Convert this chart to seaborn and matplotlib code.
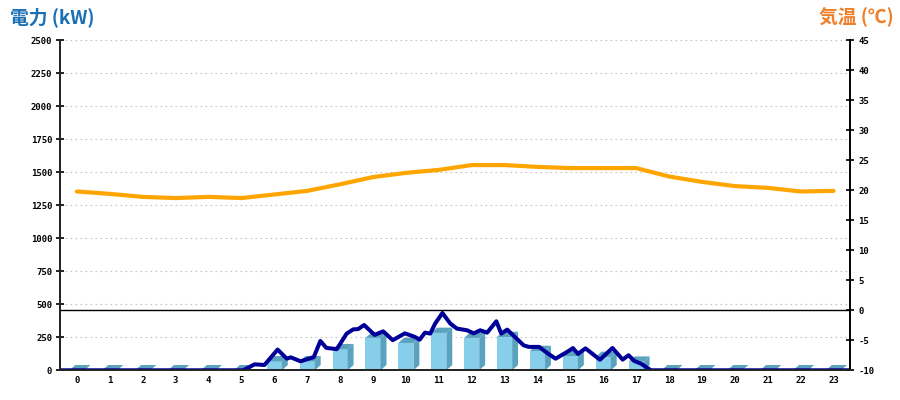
import matplotlib
matplotlib.use("Agg")
import matplotlib.pyplot as plt
from matplotlib.patches import Polygon
import pandas as pd
import seaborn as sns

# Dados do gráfico
HORAS = list(range(24))
POTENCIA_HORARIA = [0, 0, 0, 0, 0, 0, 68, 68, 159, 245, 207, 283,
                    245, 252, 146, 108, 101, 65, 0, 0, 0, 0, 0, 0]
TEMPERATURA = [19.8, 19.4, 18.9, 18.7, 18.9, 18.7, 19.3, 19.9, 21.0, 22.2, 22.9, 23.4,
               24.2, 24.2, 23.9, 23.7, 23.7, 23.7, 22.3, 21.4, 20.7, 20.4, 19.8, 19.9]

# Curva de demanda (hora do dia, kW)
TEMPO_CURVA = [0.0, 5.55, 5.9, 6.2, 6.6, 6.88, 7.0, 7.3, 7.7, 7.9, 8.08, 8.4,
               8.7, 8.9, 9.05, 9.23, 9.55, 9.81, 10.1, 10.47, 10.78, 10.92, 11.08, 11.24,
               11.39, 11.61, 11.85, 12.05, 12.36, 12.56, 12.76, 12.97, 13.25, 13.4, 13.58, 14.08,
               14.24, 14.55, 14.8, 15.05, 15.38, 15.58, 15.73, 15.96, 16.4, 16.78, 17.09, 17.27,
               17.44, 17.65, 17.95, 24.0]
POTENCIA_CURVA = [0, 0, 45, 40, 157, 88, 98, 68, 100, 222, 170, 160,
                  278, 310, 312, 343, 268, 295, 228, 280, 252, 232, 285, 278,
                  354, 434, 354, 316, 303, 280, 303, 285, 371, 278, 308, 189,
                  177, 177, 130, 88, 136, 168, 124, 166, 80, 169, 81, 114,
                  71, 50, 0, 0]

TICKS_KW = list(range(0, 2501, 250))
TICKS_TEMP = list(range(-10, 46, 5))

# Configurações visuais
COR_FRENTE = "#87ceeb"
COR_LADO = "#5ba2bf"
COR_CURVA = "#000099"
COR_TEMP = "#ffa500"
COR_TITULO_KW = "#1a6fb5"
COR_TITULO_TEMP = "#f07f2a"
LARGURA = 0.46
PROF_X = 0.18
PROF_Y = 40
FONTE_TICKS = {"family": "DejaVu Sans Mono", "size": 6.5, "weight": "bold"}


def plotar():
    sns.set_theme(style="white")
    plt.rcParams["font.family"] = ["Noto Sans CJK JP", "DejaVu Sans"]
    plt.rcParams["axes.unicode_minus"] = False

    fig = plt.figure(figsize=(9, 4), dpi=100)
    ax = fig.add_axes([0.0672, 0.0743, 0.8772, 0.825])

    df_barras = pd.DataFrame({"hora": HORAS, "kW": POTENCIA_HORARIA})
    sns.barplot(data=df_barras, x="hora", y="kW", color=COR_FRENTE, saturation=1,
                width=LARGURA, linewidth=0, ax=ax, zorder=2)

    # efeito 3D: lateral e topo de cada barra
    for i, v in enumerate(POTENCIA_HORARIA):
        esq, dir_ = i - LARGURA / 2, i + LARGURA / 2
        lado = [(dir_, 0), (dir_ + PROF_X, PROF_Y), (dir_ + PROF_X, v + PROF_Y), (dir_, v)]
        topo = [(esq, v), (esq + PROF_X, v + PROF_Y), (dir_ + PROF_X, v + PROF_Y), (dir_, v)]
        ax.add_patch(Polygon(lado, closed=True, facecolor=COR_LADO, edgecolor="none", zorder=2))
        ax.add_patch(Polygon(topo, closed=True, facecolor=COR_LADO, edgecolor="none", zorder=2))

    df_curva = pd.DataFrame({"x": [t - 0.5 for t in TEMPO_CURVA], "kW": POTENCIA_CURVA})
    sns.lineplot(data=df_curva, x="x", y="kW", color=COR_CURVA, linewidth=2.9,
                 ax=ax, zorder=4, sort=False, estimator=None)

    ax.set_xlim(-0.5, 23.5)
    ax.set_ylim(0, 2500)
    ax.set_xticks(HORAS)
    ax.set_xticklabels([str(h) for h in HORAS], fontdict=FONTE_TICKS)
    ax.set_yticks(TICKS_KW)
    ax.set_yticklabels([str(t) for t in TICKS_KW], fontdict=FONTE_TICKS)
    ax.tick_params(axis="x", length=0, pad=4, colors="black")
    ax.tick_params(axis="y", direction="inout", length=6, width=1.2, pad=3, colors="black")
    ax.set_xlabel("")
    ax.set_ylabel("")
    ax.yaxis.grid(True, color="#c4c4c4", linestyle=(0, (1.5, 3)), linewidth=0.8)
    ax.set_axisbelow(True)
    for lado in ["left", "right", "bottom"]:
        ax.spines[lado].set_color("black")
        ax.spines[lado].set_linewidth(1.2)
    ax.spines["top"].set_visible(False)

    ax2 = ax.twinx()
    sns.lineplot(x=HORAS, y=TEMPERATURA, color=COR_TEMP, linewidth=3.0, ax=ax2)
    ax2.axhline(0, color="black", linewidth=1.0)
    ax2.set_ylim(-10, 45)
    ax2.set_yticks(TICKS_TEMP)
    ax2.set_yticklabels([str(t) for t in TICKS_TEMP], fontdict=FONTE_TICKS)
    ax2.tick_params(axis="y", direction="inout", length=6, width=1.2, pad=3, colors="black")
    ax2.grid(False)
    ax2.spines["top"].set_visible(False)
    ax2.spines["right"].set_color("black")
    ax2.spines["right"].set_linewidth(1.2)
    ax2.set_xlim(-0.5, 23.5)

    fig.text(0.011, 0.958, "電力 (kW)", color=COR_TITULO_KW, fontsize=13.5,
             fontweight="bold", ha="left", va="center")
    fig.text(0.993, 0.958, "気温 (℃)", color=COR_TITULO_TEMP, fontsize=13.5,
             fontweight="bold", ha="right", va="center")

    fig.savefig("out.png", dpi=100)


if __name__ == "__main__":
    plotar()
